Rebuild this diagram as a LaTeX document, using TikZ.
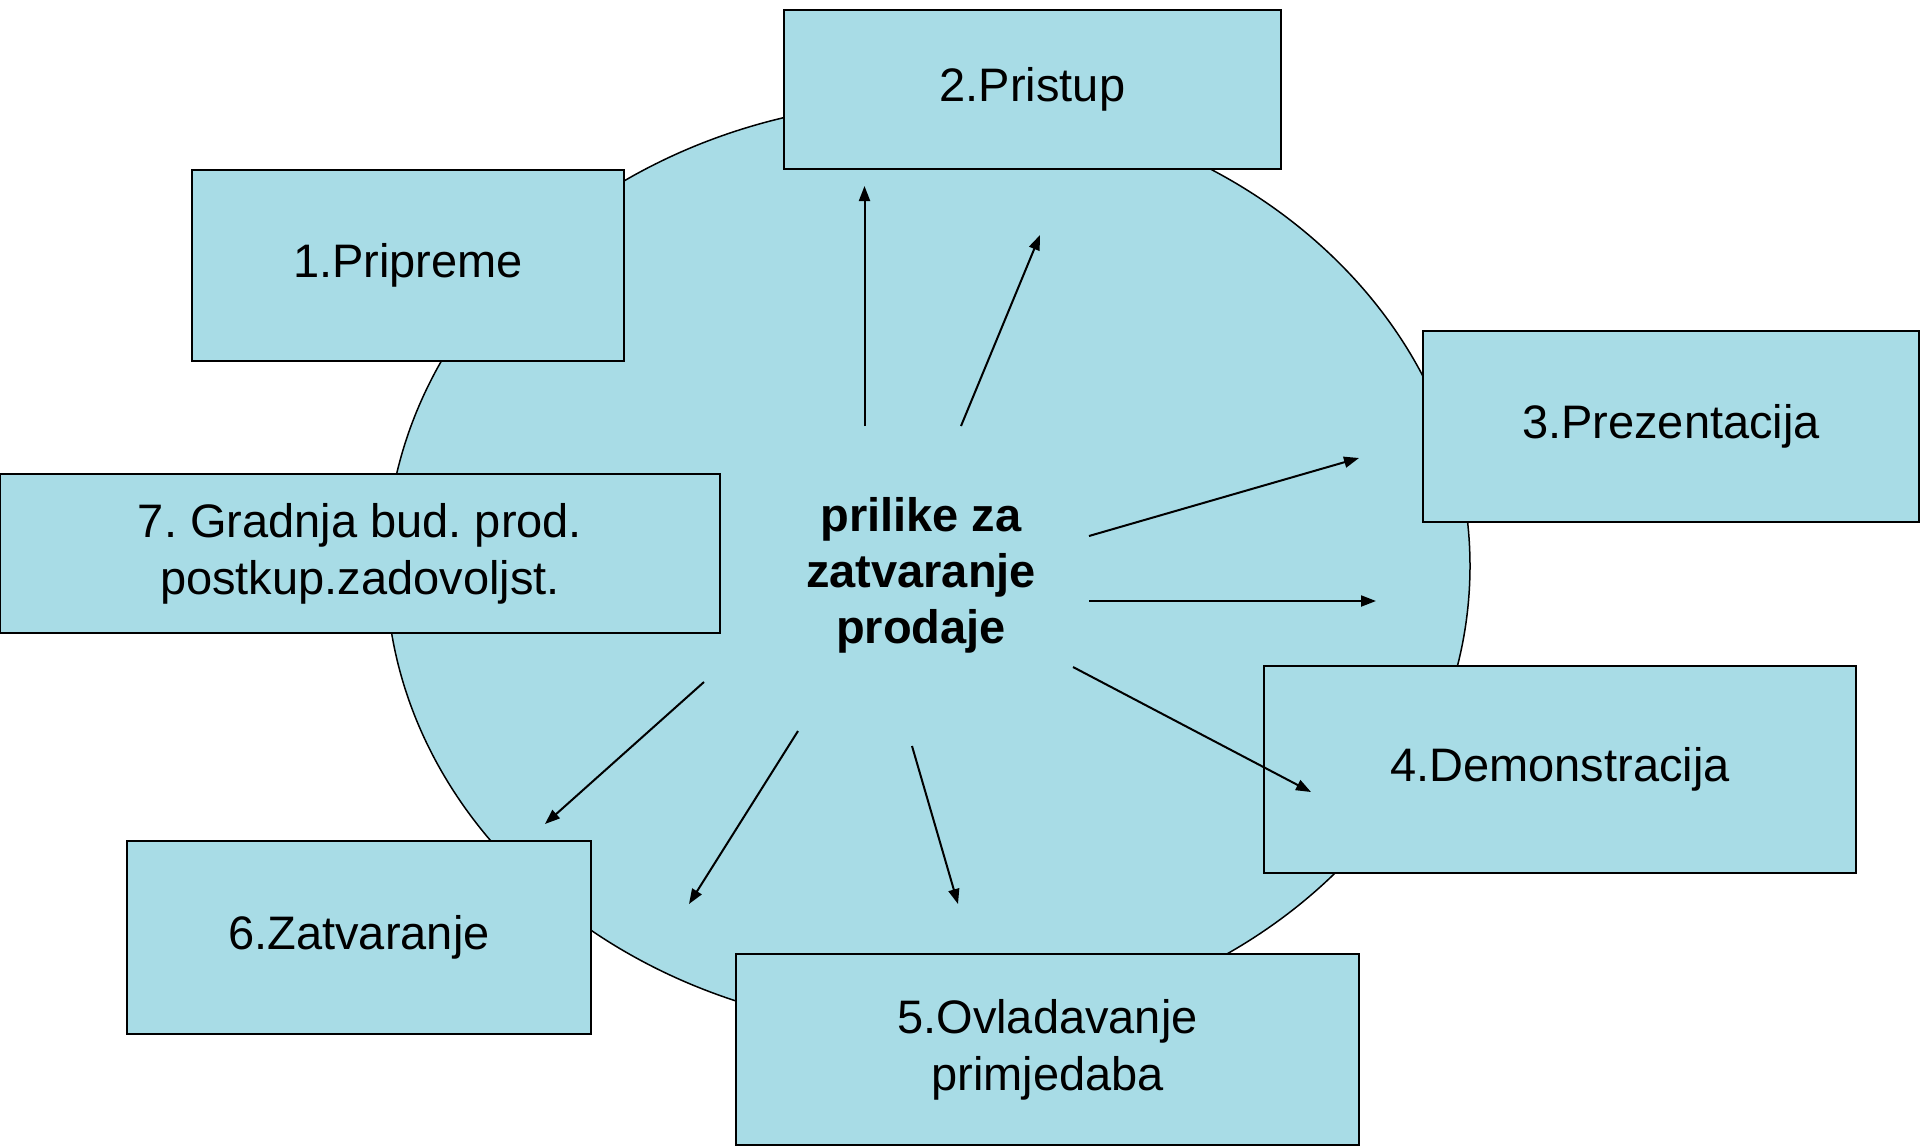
\documentclass[tikz,border=0pt]{standalone}
\usepackage{fontspec}
\setmainfont{Liberation Sans}
\usetikzlibrary{arrows.meta,shapes.geometric}
\definecolor{kapi}{RGB}{168,220,230}
\frenchspacing
\tikzset{
  okvir/.style={draw, line width=2pt, fill=kapi, inner sep=0pt, align=center,
    font=\fontsize{47}{57}\selectfont},
  strelica/.style={line width=2pt, -{Triangle[length=15pt,width=11pt]}}
}
\begin{document}
\begin{tikzpicture}[x=1pt, y=-1pt]
  \useasboundingbox (0,0) rectangle (1920,1146);

  % Krug
  \node[draw, line width=1.5pt, fill=kapi, ellipse, minimum width=1084pt, minimum height=930pt, inner sep=0pt] (krug) at (928,566) {};
  \node[align=center, font=\bfseries\fontsize{47}{56}\selectfont] (P) at (921,575) {prilike za\\zatvaranje\\prodaje};

  % Okviri
  \node[okvir, minimum width=432pt, minimum height=191pt] (A) at (408,265.5) {1.Pripreme};
  \node[okvir, minimum width=497pt, minimum height=159pt] (B) at (1032.5,89.5) {2.Pristup};
  \node[okvir, minimum width=496pt, minimum height=191pt] (C) at (1671,426.5) {3.Prezentacija};
  \node[okvir, minimum width=592pt, minimum height=207pt] (D) at (1560,769.5) {4.Demonstracija};
  \node[okvir, minimum width=623pt, minimum height=191pt] (E) at (1047.5,1049.5) {5.Ovladavanje\\primjedaba};
  \node[okvir, minimum width=464pt, minimum height=193pt] (F) at (359,937.5) {6.Zatvaranje};
  \node[okvir, minimum width=720pt, minimum height=159pt] (G) at (360,553.5) {7. Gradnja bud. prod.\\postkup.zadovoljst.};

  % Strelice
  \coordinate (s1) at (864.5,426); \coordinate (k1) at (864.5,186);
  \coordinate (s2) at (961,426);   \coordinate (k2) at (1040,235);
  \coordinate (s3) at (1089,536);  \coordinate (k3) at (1359,458);
  \coordinate (s4) at (1089,601);  \coordinate (k4) at (1376,601);
  \coordinate (s5) at (1073,667);  \coordinate (k5) at (1311,792);
  \coordinate (s6) at (912,746);   \coordinate (k6) at (958,904);
  \coordinate (s7) at (798,731);   \coordinate (k7) at (689,904);
  \coordinate (s8) at (704,682);   \coordinate (k8) at (545,824);
  \foreach \i in {1,...,8}
    \draw[strelica] (s\i) -- (k\i);
\end{tikzpicture}
\end{document}
